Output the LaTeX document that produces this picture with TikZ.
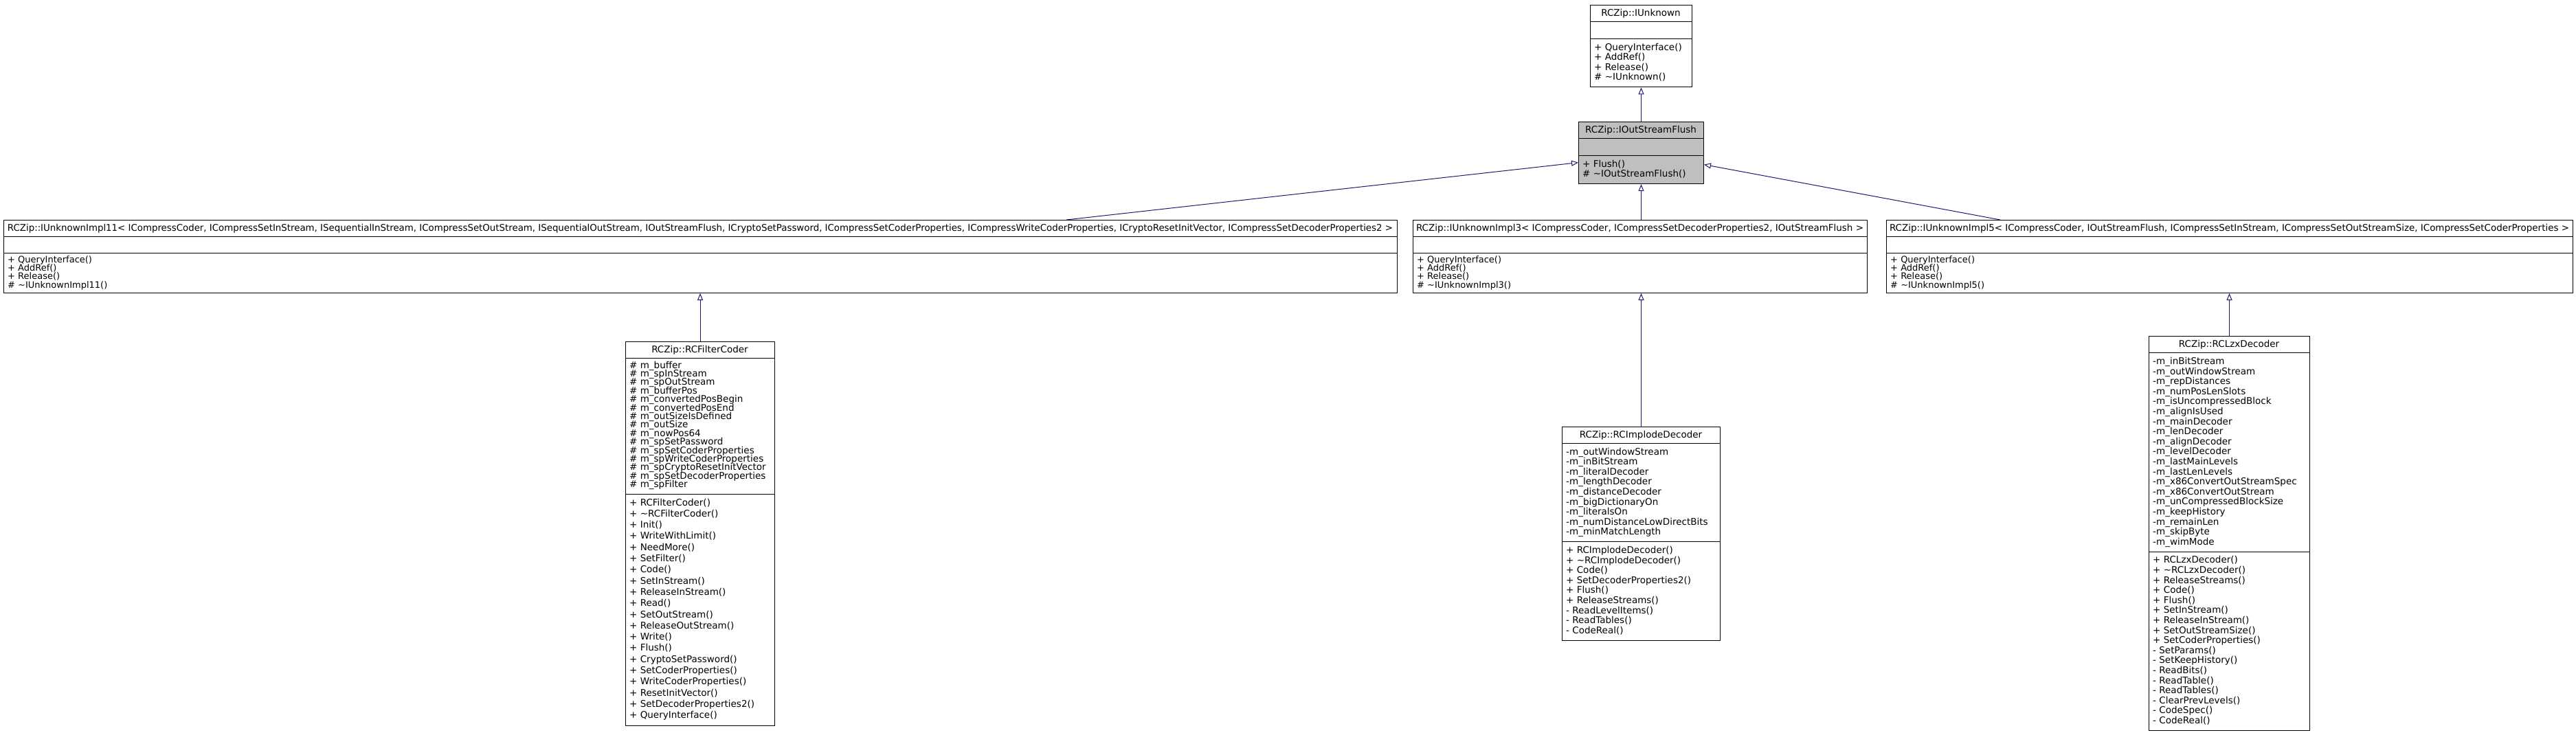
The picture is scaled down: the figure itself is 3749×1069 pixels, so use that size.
\documentclass[tikz,border=0pt]{standalone}
\usepackage{fontspec}
\setmainfont{DejaVu Sans}
\usepackage{graphicx}
\usetikzlibrary{arrows.meta}
\definecolor{edgeblue}{RGB}{25,25,112}
\definecolor{boxgray}{RGB}{191,191,191}

\begin{document}
\begin{tikzpicture}[x=1pt,y=-1pt,
        classbox/.style={draw=black,line width=1pt,inner sep=0pt,anchor=north west},
        classtitle/.style={anchor=base,inner sep=0pt,font=\fontsize{13.5}{14.6}\selectfont},
        member/.style={anchor=base west,inner sep=0pt,font=\fontsize{13.5}{14.6}\selectfont},
        smallmember/.style={member,font=\fontsize{13}{12.4}\selectfont},
        inherit/.style={draw=edgeblue,line width=1pt,-{Triangle[open,length=10pt,width=8pt]}}]
        \useasboundingbox (0,0) rectangle (3749,1069);

        \node[classbox,minimum width=148pt,minimum height=119.4pt] (unknown) at (2314,7) {};
        \draw (unknown.north west) ++(0,24.5) -- ++(148,0) ++(-148,24.5) -- ++(148,0);
        \node[classtitle] (unknown-name) at (2388,23.5) {RCZip::IUnknown};
        \foreach \m [count=\i] in {+ QueryInterface(),+ AddRef(),+ Release(),\# \textasciitilde IUnknown()}
            \node[member] (unknown-op\i) at (2320,56+2.4+14.6*\i) {\m};

        \node[classbox,fill=boxgray,minimum width=182pt,minimum height=90.2pt] (flush) at (2297,177) {};
        \draw (flush.north west) ++(0,24.5) -- ++(182,0) ++(-182,24.5) -- ++(182,0);
        \node[classtitle] (flush-name) at (2388,193.5) {RCZip::IOutStreamFlush};
        \foreach \m [count=\i] in {+ Flush(),\# \textasciitilde IOutStreamFlush()}
            \node[member] (flush-op\i) at (2303,226+2.4+14.6*\i) {\m};

        \node[classbox,minimum width=2028pt,minimum height=106pt] (implA) at (5,320) {};
        \draw (implA.north west) ++(0,24.5) -- ++(2028,0) ++(-2028,24) -- ++(2028,0);
        \node[classtitle] (implA-name) at (1019,336.5) {\resizebox{2016pt}{\height}{RCZip::IUnknownImpl11< ICompressCoder, ICompressSetInStream, ISequentialInStream, ICompressSetOutStream, ISequentialOutStream, IOutStreamFlush, ICryptoSetPassword, ICompressSetCoderProperties, ICompressWriteCoderProperties, ICryptoResetInitVector, ICompressSetDecoderProperties2 >}};
        \foreach \m [count=\i] in {+ QueryInterface(),+ AddRef(),+ Release(),\# \textasciitilde IUnknownImpl11()}
            \node[smallmember] (implA-op\i) at (11,369.6+12.4*\i) {\m};

        \node[classbox,minimum width=661pt,minimum height=106pt] (implB) at (2056,320) {};
        \draw (implB.north west) ++(0,24.5) -- ++(661,0) ++(-661,24) -- ++(661,0);
        \node[classtitle] (implB-name) at (2386.5,336.5) {\resizebox{651pt}{\height}{RCZip::IUnknownImpl3< ICompressCoder, ICompressSetDecoderProperties2, IOutStreamFlush >}};
        \foreach \m [count=\i] in {+ QueryInterface(),+ AddRef(),+ Release(),\# \textasciitilde IUnknownImpl3()}
            \node[smallmember] (implB-op\i) at (2062,369.6+12.4*\i) {\m};

        \node[classbox,minimum width=999pt,minimum height=106pt] (implC) at (2745,320) {};
        \draw (implC.north west) ++(0,24.5) -- ++(999,0) ++(-999,24) -- ++(999,0);
        \node[classtitle] (implC-name) at (3244.5,336.5) {\resizebox{989pt}{\height}{RCZip::IUnknownImpl5< ICompressCoder, IOutStreamFlush, ICompressSetInStream, ICompressSetOutStreamSize, ICompressSetCoderProperties >}};
        \foreach \m [count=\i] in {+ QueryInterface(),+ AddRef(),+ Release(),\# \textasciitilde IUnknownImpl5()}
            \node[smallmember] (implC-op\i) at (2751,369.6+12.4*\i) {\m};

        \node[classbox,minimum width=217pt,minimum height=559.5pt] (filter) at (910,496.5) {};
        \draw (filter.north west) ++(0,24.5) -- ++(217,0) ++(-217,198) -- ++(217,0);
        \node[classtitle] (filter-name) at (1018.5,513) {RCZip::RCFilterCoder};
        \foreach \m [count=\i] in {\# m\_buffer,\# m\_spInStream,\# m\_spOutStream,\# m\_bufferPos,\# m\_convertedPosBegin,\# m\_convertedPosEnd,\# m\_outSizeIsDefined,\# m\_outSize,\# m\_nowPos64,\# m\_spSetPassword,\# m\_spSetCoderProperties,\# m\_spWriteCoderProperties,\# m\_spCryptoResetInitVector,\# m\_spSetDecoderProperties,\# m\_spFilter}
            \node[member] (filter-attr\i) at (916,523.6+12.4*\i) {\m};
        \foreach \m [count=\i] in {+ RCFilterCoder(),+ \textasciitilde RCFilterCoder(),+ Init(),+ WriteWithLimit(),+ NeedMore(),+ SetFilter(),+ Code(),+ SetInStream(),+ ReleaseInStream(),+ Read(),+ SetOutStream(),+ ReleaseOutStream(),+ Write(),+ Flush(),+ CryptoSetPassword(),+ SetCoderProperties(),+ WriteCoderProperties(),+ ResetInitVector(),+ SetDecoderProperties2(),+ QueryInterface()}
            \node[member] (filter-op\i) at (916,719.7+16.3*\i) {\m};

        \node[classbox,minimum width=230pt,minimum height=311.3pt] (implode) at (2273,620.5) {};
        \draw (implode.north west) ++(0,24.5) -- ++(230,0) ++(-230,143.4) -- ++(230,0);
        \node[classtitle] (implode-name) at (2388,637) {RCZip::RCImplodeDecoder};
        \foreach \m [count=\i] in {-m\_outWindowStream,-m\_inBitStream,-m\_literalDecoder,-m\_lengthDecoder,-m\_distanceDecoder,-m\_bigDictionaryOn,-m\_literalsOn,-m\_numDistanceLowDirectBits,-m\_minMatchLength}
            \node[member] (implode-attr\i) at (2279,645+2.4+14.6*\i) {\m};
        \foreach \m [count=\i] in {+ RCImplodeDecoder(),+ \textasciitilde RCImplodeDecoder(),+ Code(),+ SetDecoderProperties2(),+ Flush(),+ ReleaseStreams(),- ReadLevelItems(),- ReadTables(),- CodeReal()}
            \node[member] (implode-op\i) at (2279,788.4+2.4+14.6*\i) {\m};

        \node[classbox,minimum width=234pt,minimum height=574.1pt] (lzx) at (3127,489) {};
        \draw (lzx.north west) ++(0,24.5) -- ++(234,0) ++(-234,289.4) -- ++(234,0);
        \node[classtitle] (lzx-name) at (3244,505.5) {RCZip::RCLzxDecoder};
        \foreach \m [count=\i] in {-m\_inBitStream,-m\_outWindowStream,-m\_repDistances,-m\_numPosLenSlots,-m\_isUncompressedBlock,-m\_alignIsUsed,-m\_mainDecoder,-m\_lenDecoder,-m\_alignDecoder,-m\_levelDecoder,-m\_lastMainLevels,-m\_lastLenLevels,-m\_x86ConvertOutStreamSpec,-m\_x86ConvertOutStream,-m\_unCompressedBlockSize,-m\_keepHistory,-m\_remainLen,-m\_skipByte,-m\_wimMode}
            \node[member] (lzx-attr\i) at (3133,513.5+2.4+14.6*\i) {\m};
        \foreach \m [count=\i] in {+ RCLzxDecoder(),+ \textasciitilde RCLzxDecoder(),+ ReleaseStreams(),+ Code(),+ Flush(),+ SetInStream(),+ ReleaseInStream(),+ SetOutStreamSize(),+ SetCoderProperties(),- SetParams(),- SetKeepHistory(),- ReadBits(),- ReadTable(),- ReadTables(),- ClearPrevLevels(),- CodeSpec(),- CodeReal()}
            \node[member] (lzx-op\i) at (3133,802.9+2.4+14.6*\i) {\m};

        \coordinate (implA-out) at (1552,320);
        \coordinate (implC-out) at (2911,320);
        \draw[inherit] (flush.north) -- (unknown.south);
        \draw[inherit] (implA-out) -- ([yshift=-14pt]flush.west);
        \draw[inherit] (flush.south |- implB.north) -- (flush.south);
        \draw[inherit] (implC-out) -- ([yshift=-17pt]flush.east);
        \draw[inherit] (filter.north) -- (filter.north |- implA.south);
        \draw[inherit] (implode.north) -- (implode.north |- implB.south);
        \draw[inherit] (lzx.north) -- (lzx.north |- implC.south);
\end{tikzpicture}
\end{document}
